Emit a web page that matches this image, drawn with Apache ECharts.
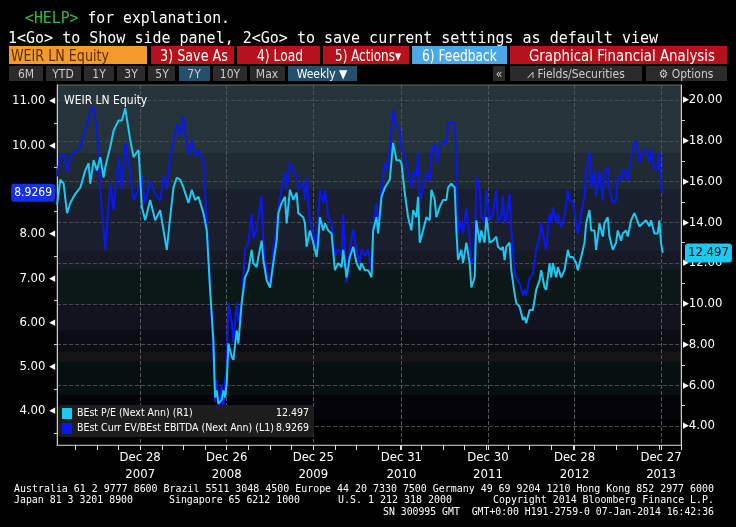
<!DOCTYPE html>
<html><head><meta charset="utf-8">
<script src="https://cdn.jsdelivr.net/npm/echarts@6/dist/echarts.min.js"></script>
<style>
html,body{margin:0;padding:0;background:#000;width:736px;height:527px;overflow:hidden}
#c{position:absolute;left:0;top:0;width:736px;height:527px}
#ov{position:absolute;left:0;top:0;width:736px;height:527px;pointer-events:none}
</style></head><body>
<div id="c"></div>
<svg id="ov" width="736" height="527" xmlns="http://www.w3.org/2000/svg">
<g font-family="DejaVu Sans Mono" font-size="15" fill="#fff">
<text x="25" y="23" textLength="205" lengthAdjust="spacingAndGlyphs"><tspan fill="#2fbf3f">&lt;HELP&gt;</tspan> for explanation.</text>
<text x="8" y="43" textLength="650" lengthAdjust="spacingAndGlyphs">1&lt;Go&gt; to Show side panel, 2&lt;Go&gt; to save current settings as default view</text>
</g>
<g font-family="DejaVu Sans Condensed, Liberation Sans Narrow, Liberation Sans" font-size="15">
<rect x="9" y="46" width="138" height="18" fill="#f39a2c"/>
<text x="11" y="61" fill="#5a3000" textLength="98" lengthAdjust="spacingAndGlyphs">WEIR LN Equity</text>
<rect x="151" y="46" width="83" height="18" fill="#b5121b"/>
<text x="160" y="61" fill="#fff" textLength="68" lengthAdjust="spacingAndGlyphs">3) Save As</text>
<rect x="237" y="46" width="83" height="18" fill="#b5121b"/>
<text x="257" y="61" fill="#fff" textLength="46" lengthAdjust="spacingAndGlyphs">4) Load</text>
<rect x="323" y="46" width="86" height="18" fill="#b5121b"/>
<text x="335" y="61" fill="#fff" textLength="66" lengthAdjust="spacingAndGlyphs">5) Actions▾</text>
<rect x="412" y="46" width="95" height="18" fill="#4aa8e8"/>
<text x="422" y="61" fill="#fff" textLength="75" lengthAdjust="spacingAndGlyphs">6) Feedback</text>
<rect x="510" y="46" width="217" height="18" fill="#b5121b"/>
<text x="529" y="61" fill="#fff" textLength="186" lengthAdjust="spacingAndGlyphs">Graphical Financial Analysis</text>
</g>
<g font-family="DejaVu Sans Condensed, Liberation Sans Narrow, Liberation Sans" font-size="12" fill="#ccc">
<rect x="9" y="66" width="34" height="15" fill="#2b2b2b"/><text x="26" y="78" text-anchor="middle">6M</text>
<rect x="46" y="66" width="35" height="15" fill="#2b2b2b"/><text x="63" y="78" text-anchor="middle">YTD</text>
<rect x="84" y="66" width="30" height="15" fill="#2b2b2b"/><text x="99" y="78" text-anchor="middle">1Y</text>
<rect x="117" y="66" width="28" height="15" fill="#2b2b2b"/><text x="131" y="78" text-anchor="middle">3Y</text>
<rect x="148" y="66" width="27" height="15" fill="#2b2b2b"/><text x="162" y="78" text-anchor="middle">5Y</text>
<rect x="179" y="66" width="31" height="15" fill="#24506e"/><text x="194" y="78" text-anchor="middle">7Y</text>
<rect x="213" y="66" width="34" height="15" fill="#2b2b2b"/><text x="230" y="78" text-anchor="middle">10Y</text>
<rect x="250" y="66" width="35" height="15" fill="#2b2b2b"/><text x="267" y="78" text-anchor="middle">Max</text>
<rect x="288" y="66" width="69" height="15" fill="#24506e"/><text x="322" y="78" text-anchor="middle" fill="#fff">Weekly ▼</text>
<rect x="493" y="66" width="12" height="15" fill="#2b2b2b"/><text x="499" y="78" text-anchor="middle">«</text>
<rect x="510" y="66" width="132" height="15" fill="#2b2b2b"/><text x="576" y="78" text-anchor="middle">⩘ Fields/Securities</text>
<rect x="646" y="66" width="81" height="15" fill="#2b2b2b"/><text x="686" y="78" text-anchor="middle">⚙ Options</text>
</g>
<g font-family="DejaVu Sans Mono" font-size="10.5" fill="#fff">
<text x="14" y="492" textLength="700" lengthAdjust="spacingAndGlyphs">Australia 61 2 9777 8600 Brazil 5511 3048 4500 Europe 44 20 7330 7500 Germany 49 69 9204 1210 Hong Kong 852 2977 6000</text>
<text x="14" y="503" textLength="119" lengthAdjust="spacingAndGlyphs">Japan 81 3 3201 8900</text>
<text x="169" y="503" textLength="131" lengthAdjust="spacingAndGlyphs">Singapore 65 6212 1000</text>
<text x="338" y="503" textLength="114" lengthAdjust="spacingAndGlyphs">U.S. 1 212 318 2000</text>
<text x="493" y="503" textLength="221" lengthAdjust="spacingAndGlyphs">Copyright 2014 Bloomberg Finance L.P.</text>
<text x="383" y="515" textLength="331" lengthAdjust="spacingAndGlyphs" xml:space="preserve">SN 300995 GMT  GMT+0:00 H191-2759-0 07-Jan-2014 16:42:36</text>
</g>
</svg>
<script>
// week offsets from 2007-01-12 (Friday)
const weeks = [0,2,4,6,8,11,14,17,19,20,22,24,26,28,29,32,34,37,39,41,44,46,49,51,53,56,59,62,64,66,68,70,72,74,76,79,81,83,85,88,90,92,94,95,
96,97,99,100,101,102,103,105,106,108,109,111,113,115,117,118,120,121,123,124,126,128,130,132,133,135,137,138,140,142,144,145,148,149,150,152,154,156,157,158,160,161,163,165,167,169,171,172,174,176,178,180,182,183,185,
187,189,190,192,193,195,197,198,200,202,204,206,207,209,211,213,214,216,217,218,220,222,224,225,227,228,230,232,234,235,237,239,240,241,243,244,246,248,249,251,252,254,255,257,258,260,262,264,265,267,268,269,270,272,273,275,276,278,280,
281,282,284,286,288,290,291,293,294,296,297,298,300,301,303,305,307,308,310,312,313,315,317,318,320,321,323,324,326,328,329,331,332,334,336,337,339,340,342,343,345,347,348,350,352,354,356,357,359,361,362,363,364];
const evEbitda = [9.3,9.75,9.8,9.4,9.75,9.85,9.95,10.35,10.55,10.8,10.87,10.35,9.0,8.1,7.65,9.15,8.55,9.75,9.0,10.05,9.4,8.75,9.0,9.3,8.7,9.2,8.9,8.75,9.3,9.0,9.75,10.1,10.5,10.2,10.65,9.75,10.1,9.75,9.9,9.65,8.25,6.75,5.2,4.2,
4.7,4.0,4.6,4.0,4.7,5.0,6.45,6.0,5.55,6.45,6.0,6.45,7.65,7.8,8.45,7.9,8.1,8.1,8.85,7.8,7.1,6.8,7.65,8.15,8.6,9.0,9.4,9.0,9.6,9.45,9.3,9.0,9.15,8.75,9.3,8.25,8.0,7.7,8.4,9.0,8.7,9.0,8.4,8.25,7.5,7.65,7.5,8.45,6.9,7.65,8.1,7.65,7.35,7.65,7.5,
7.65,7.2,8.1,8.7,8.1,9.0,9.6,9.45,9.9,10.8,10.4,10.4,9.9,9.75,9.4,9.05,9.4,9.3,9.85,8.75,9.0,9.4,9.2,9.85,10.05,9.6,9.95,10.1,10.05,10.5,10.5,10.5,9.75,8.0,8.3,8.0,8.6,7.9,7.35,7.5,9.3,9.0,8.4,8.25,9.0,8.3,8.45,9.0,8.25,8.4,8.85,8.25,8.3,8.9,8.1,7.2,7.0,6.9,6.6,
6.75,6.6,7.0,7.1,7.65,7.9,8.25,7.8,7.65,8.45,8.25,8.6,8.25,8.45,8.15,8.4,9.0,8.75,8.75,8.25,8.0,8.45,8.85,9.45,9.85,9.05,9.45,8.85,9.4,8.75,9.4,9.5,9.0,8.7,8.75,9.3,9.2,9.45,9.4,9.2,9.75,10.05,10.1,9.6,9.85,9.9,9.6,9.9,9.45,9.45,9.85,9.05,8.9269];
const pe = [14.85,16.1,15.9,14.45,14.95,15.4,15.7,16.55,16.9,15.9,17.05,16.55,17.2,16.2,16.7,17.7,18.5,19.0,19.0,19.6,18.05,17.2,17.55,14.75,14.1,15.1,14.1,14.6,13.6,12.65,14.25,15.7,16.2,16.1,15.7,14.95,15.6,15.1,15.25,14.45,13.6,10.7,8.2,5.4,
5.75,5.1,5.3,5.75,5.4,6.1,8.05,7.4,7.25,8.7,8.05,10.05,11.3,11.65,12.65,12.0,11.8,12.3,13.1,12.15,11.15,10.8,12.0,13.1,14.45,14.95,15.25,13.95,15.6,15.1,15.45,14.45,14.25,13.95,12.8,13.6,13.0,12.3,13.1,14.25,13.6,13.95,13.6,13.45,11.65,12.0,11.8,12.65,11.3,12.3,12.8,12.0,11.65,12.0,11.65,
11.65,11.3,13.6,14.25,13.45,15.25,15.7,15.7,16.1,17.9,17.05,17.05,16.9,15.45,14.25,13.6,14.6,14.25,15.25,13.0,13.6,14.25,14.1,15.6,15.1,14.25,14.75,15.1,15.1,15.7,15.9,15.7,13.6,12.15,12.65,12.0,13.0,12.0,10.8,11.3,14.1,13.0,13.6,13.0,14.25,13.0,13.1,13.3,12.8,12.65,12.8,12.15,12.8,13.0,11.65,10.5,10.05,9.85,9.2,
9.35,9.05,9.7,9.7,10.7,11.15,11.65,10.8,10.7,12.0,11.3,12.0,11.3,11.8,11.3,11.65,12.65,12.3,12.3,12.0,11.65,12.3,13.0,13.95,14.6,13.6,13.6,12.65,13.95,13.3,13.95,14.25,13.3,12.65,13.0,13.6,13.1,13.45,13.6,13.3,14.1,14.45,14.25,13.8,13.95,14.1,13.8,14.1,13.45,13.45,14.1,13.0,12.497];
const labelDates = ['2007-12-28','2008-12-26','2009-12-25','2010-12-31','2011-12-30','2012-12-28','2013-12-27'];
const labelTexts = ['Dec 28\n2007','Dec 26\n2008','Dec 25\n2009','Dec 31\n2010','Dec 30\n2011','Dec 28\n2012','Dec 27\n2013'];
const leftTicks = [4,5,6,7,8,9,10,11];
const rightTicks = [4,6,8,10,12,14,16,18,20];
const peName = 'BEst P/E (Next Ann) (R1)';
const evName = 'BEst Curr EV/BEst EBITDA (Next Ann) (L1)';
const peLast = '12.497', evLast = '8.9269';

const DAY = 86400000;
const t0 = Date.UTC(2007,0,12);
const ts = weeks.map(w => t0 + w*7*DAY);
const lab = labelDates.map(d => Date.parse(d+'T00:00:00Z'));
const xMax = t0 + 375*7*DAY;
const qt = [];
for (let t = lab[0] - 3*13*7*DAY; t <= xMax; t += 13*7*DAY) if (t >= t0) qt.push(t);
const leftHalf = []; for (let v = 3.5; v <= 11; v += 1) leftHalf.push(v);
const rightOdd = []; for (let v = 5; v <= 19; v += 2) rightOdd.push(v);

const band = (a, b, c) => [{offset: a, color: c}, {offset: b, color: c}];
const font = 'DejaVu Sans Condensed, Liberation Sans Narrow, Liberation Sans, sans-serif';
const chart = echarts.init(document.getElementById('c'));
chart.setOption({
  animation: false,
  backgroundColor: 'transparent',
  textStyle: {fontFamily: font},
  title: {text: 'WEIR LN Equity', left: 59, top: 90, textStyle: {color: '#fff', fontSize: 12, fontWeight: 'normal', fontFamily: font}},
  grid: {left: 57, right: 55, top: 85, bottom: 82, show: true, borderColor: '#666', borderWidth: 1,
    backgroundColor: {type: 'linear', x: 0, y: 0, x2: 0, y2: 1, colorStops: [].concat(
      band(0, 0.19, '#25333a'), band(0.19, 0.29, '#1f2a33'), band(0.29, 0.46, '#1a1f2e'),
      band(0.46, 0.51, '#151a24'), band(0.51, 0.61, '#0c1818'), band(0.61, 0.68, '#131320'),
      band(0.68, 0.74, '#0c0c14'), band(0.74, 0.77, '#151515'), band(0.77, 0.86, '#061010'),
      band(0.86, 0.93, '#04040a'), band(0.93, 1, '#000'))}},
  legend: {
    orient: 'vertical', left: 58, top: 405, itemWidth: 10, itemHeight: 11, itemGap: 4,
    padding: [3, 5, 3, 4], backgroundColor: 'rgba(32,32,32,0.92)', borderRadius: 3,
    data: [peName, evName], icon: 'rect',
    formatter: n => `{n|${n}}{v|${n === peName ? peLast : evLast}}`,
    textStyle: {color: '#fff', fontSize: 10.5, fontFamily: font,
      rich: {n: {width: 196, color: '#fff', fontSize: 10.5, fontFamily: font}, v: {width: 36, align: 'right', color: '#fff', fontSize: 10.5, fontFamily: font}}}
  },
  xAxis: [{
    type: 'value', min: t0, max: xMax,
    axisLine: {lineStyle: {color: '#aaa'}},
    axisTick: {show: true, customValues: lab, length: 5, lineStyle: {color: '#ddd'}},
    axisLabel: {customValues: lab, color: '#fff', fontSize: 13, lineHeight: 17, margin: 4, fontFamily: font,
      formatter: v => { const i = lab.indexOf(v); return i >= 0 ? labelTexts[i] : ''; }},
    splitLine: {show: true, lineStyle: {color: '#555', type: 'dashed'}}
  }, {
    type: 'value', min: t0, max: xMax, position: 'bottom',
    axisLine: {show: false}, axisLabel: {show: false}, splitLine: {show: false},
    axisTick: {show: true, customValues: qt, length: 5, lineStyle: {color: '#ddd'}}
  }],
  yAxis: [{
    type: 'value', position: 'left', min: 3.235, max: 11.36,
    axisLine: {show: true, lineStyle: {color: '#ccc'}},
    axisTick: {show: true, customValues: leftHalf, length: 3, lineStyle: {color: '#ccc'}},
    axisLabel: {customValues: leftTicks, color: '#fff', fontSize: 13, margin: 2, fontFamily: font, formatter: v => v.toFixed(2) + ' ◂'},
    splitLine: {show: false},
    axisPointer: {show: true, value: 8.9269, status: 'show', triggerTooltip: false, lineStyle: {opacity: 0},
      label: {show: true, backgroundColor: '#1530e8', color: '#fff', fontSize: 12, padding: [3, 3], margin: 2, fontFamily: font, formatter: () => evLast}}
  }, {
    type: 'value', position: 'right', min: 3.07, max: 20.74,
    axisLine: {show: true, lineStyle: {color: '#ccc'}},
    axisTick: {show: false, customValues: rightTicks},
    axisLabel: {customValues: rightTicks, color: '#fff', fontSize: 13, margin: 2, fontFamily: font, formatter: v => '▸' + v.toFixed(2)},
    splitLine: {show: true, lineStyle: {color: '#4a4a4a', type: 'dashed'}},
    axisPointer: {show: true, value: 12.497, status: 'show', triggerTooltip: false, lineStyle: {opacity: 0},
      label: {show: true, backgroundColor: '#1ec8f0', color: '#000', fontSize: 13, padding: [3, 3], margin: 4, fontFamily: font, formatter: () => peLast}}
  }, {
    type: 'value', position: 'right', min: 3.07, max: 20.74,
    axisLine: {show: false}, axisLabel: {show: false}, splitLine: {show: false},
    axisTick: {show: true, customValues: rightOdd, length: 4, lineStyle: {color: '#ccc'}}
  }],
  series: [{
    name: evName, type: 'line', yAxisIndex: 0, showSymbol: false, symbol: 'none',
    lineStyle: {color: '#0a18f0', width: 2}, itemStyle: {color: '#0a18f0'},
    data: ts.map((t, i) => [t, evEbitda[i]])
  }, {
    name: peName, type: 'line', yAxisIndex: 1, showSymbol: false, symbol: 'none',
    lineStyle: {color: '#1ec8f0', width: 2}, itemStyle: {color: '#1ec8f0'},
    data: ts.map((t, i) => [t, pe[i]])
  }]
});
</script>
</body></html>
